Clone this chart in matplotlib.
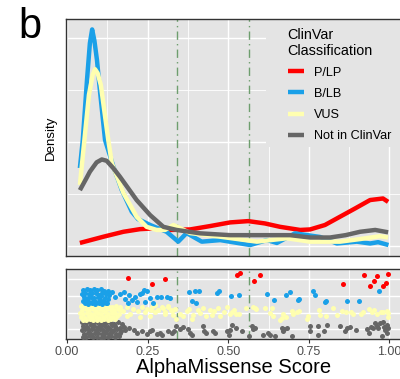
import matplotlib
matplotlib.use("Agg")
import matplotlib.pyplot as plt
import numpy as np
from matplotlib.patches import Rectangle

plt.rcParams["font.family"] = ["Liberation Sans", "DejaVu Sans"]

# ---------------------------------------------------------------------------
# Data
# ---------------------------------------------------------------------------

CLASSES = ["P/LP", "B/LB", "VUS", "Not in ClinVar"]
COLORS = {"P/LP": "#FF0000", "B/LB": "#1AA0E8", "VUS": "#FFFFB0",
          "Not in ClinVar": "#666666"}
THRESHOLDS = [0.34, 0.564]

# density curves (score, density)
PLP_X = [0.040, 0.113, 0.175, 0.226, 0.268, 0.320, 0.382, 0.444, 0.506, 0.562,
         0.614, 0.661, 0.723, 0.754, 0.800, 0.847, 0.894, 0.940, 0.980, 0.996]
PLP_Y = [0.12, 0.36, 0.55, 0.65, 0.68, 0.62, 0.64, 0.77, 0.91, 0.96,
         0.87, 0.74, 0.62, 0.64, 0.81, 1.13, 1.45, 1.77, 1.83, 1.70]

BLB_X = [0.040, 0.049, 0.062, 0.071, 0.078, 0.085, 0.093, 0.102, 0.118, 0.144,
         0.170, 0.201, 0.220, 0.258, 0.309, 0.345, 0.371, 0.418, 0.475, 0.568,
         0.620, 0.651, 0.707, 0.785, 0.837, 0.899, 0.940, 0.965, 0.997]
BLB_Y = [3.00, 4.08, 6.38, 7.80, 8.33, 7.90, 7.15, 6.00, 4.08, 3.05,
         2.15, 1.32, 1.04, 0.81, 0.55, 0.17, 0.50, 0.17, 0.23, 0.04,
         0.23, 0.12, 0.49, 0.35, 0.10, 0.17, 0.10, 0.15, 0.04]

VUS_X = [0.040, 0.054, 0.068, 0.080, 0.087, 0.095, 0.105, 0.128, 0.139, 0.175,
         0.216, 0.247, 0.278, 0.304, 0.330, 0.351, 0.382, 0.475, 0.589, 0.682,
         0.754, 0.847, 0.909, 0.971, 0.996]
VUS_Y = [2.35, 4.08, 5.81, 6.60, 6.80, 6.65, 6.19, 4.08, 3.19, 2.04,
         1.13, 0.74, 0.62, 0.62, 0.81, 0.69, 0.50, 0.36, 0.17, 0.30,
         0.17, 0.17, 0.27, 0.38, 0.33]

NIC_X = [0.040, 0.059, 0.071, 0.082, 0.092, 0.108, 0.123, 0.144, 0.164, 0.216,
         0.258, 0.299, 0.340, 0.413, 0.506, 0.599, 0.692, 0.754, 0.816, 0.864,
         0.909, 0.956, 0.996]
NIC_Y = [2.15, 2.58, 2.86, 3.05, 3.22, 3.33, 3.28, 2.99, 2.67, 1.77,
         1.19, 0.74, 0.62, 0.49, 0.42, 0.42, 0.42, 0.33, 0.33, 0.42,
         0.55, 0.62, 0.53]

# jittered strip points (score, offset from row centre)
PLP_PTS_X = [0.188, 0.263, 0.303, 0.527, 0.537, 0.580, 0.599, 0.857, 0.921,
             0.940, 0.953, 0.963, 0.980, 0.989, 0.995]
PLP_PTS_OFF = [0.10, -0.26, 0.02, 0.26, 0.40, -0.10, 0.28, -0.26, 0.28,
               -0.38, -0.10, 0.20, -0.38, -0.24, 0.34]

BLB_PTS_X = [0.050, 0.061, 0.072, 0.083, 0.093, 0.104, 0.116, 0.127,
             0.047, 0.057, 0.068, 0.078, 0.089, 0.099, 0.109, 0.121, 0.131,
             0.052, 0.064, 0.074, 0.085, 0.096, 0.106, 0.118, 0.128,
             0.049, 0.059, 0.069, 0.080, 0.091, 0.101, 0.112, 0.124,
             0.055, 0.066, 0.077, 0.087, 0.098, 0.110, 0.122,
             0.140, 0.150, 0.165, 0.176, 0.181, 0.191, 0.202, 0.212, 0.227,
             0.238, 0.243, 0.258, 0.190, 0.216, 0.232, 0.247, 0.268, 0.278,
             0.292, 0.309, 0.320, 0.379, 0.397, 0.410, 0.387, 0.400, 0.466,
             0.472, 0.509, 0.533, 0.620, 0.643, 0.679, 0.692, 0.716, 0.720,
             0.764, 0.769, 0.800, 0.803, 0.868, 0.906, 0.967]
BLB_PTS_OFF = [0.38, 0.43, 0.35, 0.41, 0.37, 0.44, 0.33, 0.30,
               0.14, 0.19, 0.11, 0.21, 0.16, 0.09, 0.20, 0.13, 0.05,
               -0.06, -0.11, -0.03, -0.13, -0.07, -0.01, -0.09, -0.17,
               -0.29, -0.25, -0.34, -0.27, -0.36, -0.26, -0.31, -0.39,
               -0.44, -0.46, -0.41, -0.47, -0.43, -0.45, -0.40,
               0.25, -0.05, 0.15, 0.25, -0.15, 0.05, -0.25, -0.05, 0.15,
               0.35, -0.35, -0.11, -0.43, -0.37, 0.19, 0.29, -0.43, -0.07,
               -0.03, -0.07, -0.11, 0.27, 0.33, 0.29, -0.31, -0.43, 0.21,
               0.33, -0.01, 0.09, 0.13, -0.23, 0.05, 0.23, -0.21, -0.17,
               0.29, 0.05, -0.37, -0.27, -0.31, -0.31, 0.29]

VUS_PTS_X = [0.042, 0.053, 0.064, 0.075, 0.086, 0.097, 0.108, 0.119, 0.130, 0.141, 0.152, 0.163,
             0.047, 0.058, 0.069, 0.080, 0.091, 0.102, 0.113, 0.124, 0.135, 0.146, 0.157, 0.168,
             0.040, 0.051, 0.062, 0.073, 0.084, 0.095, 0.106, 0.117, 0.128, 0.139, 0.150, 0.161,
             0.045, 0.056, 0.067, 0.078, 0.089, 0.100, 0.111, 0.122, 0.133, 0.144, 0.155,
             0.049, 0.060, 0.071, 0.082, 0.093, 0.104, 0.115, 0.126, 0.137, 0.148,
             0.175, 0.185, 0.195, 0.206, 0.221, 0.232, 0.242, 0.249, 0.263, 0.273,
             0.283, 0.294, 0.304, 0.314, 0.325, 0.335, 0.185, 0.226, 0.258,
             0.261, 0.273, 0.283, 0.297, 0.304, 0.314, 0.322, 0.328, 0.335, 0.338,
             0.351, 0.361, 0.371, 0.379, 0.387, 0.392, 0.406, 0.413, 0.423, 0.431,
             0.442, 0.449, 0.457, 0.468, 0.475, 0.487, 0.496, 0.506,
             0.511, 0.518, 0.524, 0.535, 0.555, 0.578, 0.583, 0.586, 0.614, 0.630,
             0.635, 0.638, 0.661, 0.666, 0.671, 0.679, 0.697, 0.702, 0.713, 0.721,
             0.746, 0.744, 0.783, 0.785, 0.804, 0.826, 0.837, 0.852, 0.866, 0.880,
             0.888, 0.911, 0.919, 0.938, 0.945, 0.953, 0.961, 0.973, 0.981, 0.992,
             0.995, 0.997]
VUS_PTS_OFF = [0.41, 0.36, 0.44, 0.38, 0.42, 0.35, 0.40, 0.43, 0.37, 0.34, 0.39, 0.32,
               0.18, 0.22, 0.15, 0.20, 0.13, 0.24, 0.17, 0.21, 0.14, 0.19, 0.23, 0.16,
               -0.03, -0.07, 0.01, -0.05, -0.09, -0.02, -0.06, 0.02, -0.08, -0.04, -0.01, -0.10,
               -0.24, -0.29, -0.21, -0.27, -0.23, -0.30, -0.25, -0.22, -0.28, -0.26, -0.20,
               -0.42, -0.45, -0.39, -0.44, -0.41, -0.46, -0.40, -0.43, -0.38, -0.36,
               0.13, 0.33, -0.07, 0.23, 0.13, 0.33, 0.03, 0.23, 0.33, 0.03,
               0.17, 0.33, -0.07, 0.37, 0.13, 0.23, -0.17, -0.23, -0.17,
               0.15, 0.45, 0.15, 0.29, 0.05, 0.41, 0.15, -0.15, 0.25, -0.35,
               -0.05, -0.21, 0.09, 0.25, -0.35, -0.15, 0.15, -0.01, 0.29, -0.21,
               0.19, -0.15, 0.09, 0.29, -0.21, 0.05, 0.35, -0.05,
               0.03, 0.17, -0.07, -0.07, 0.29, 0.33, 0.27, 0.23, 0.27, -0.01,
               0.29, -0.17, -0.43, -0.31, -0.07, -0.27, 0.13, -0.07, 0.03, 0.13,
               -0.17, -0.37, 0.17, -0.11, -0.17, 0.27, -0.13, 0.09, 0.07, 0.07,
               -0.07, -0.07, 0.03, 0.23, 0.03, 0.17, -0.07, 0.07, 0.03, 0.13,
               -0.01, -0.23]

NIC_PTS_X = [0.048, 0.059, 0.070, 0.081, 0.092, 0.103, 0.114, 0.125, 0.136, 0.147, 0.158, 0.170,
             0.051, 0.062, 0.073, 0.084, 0.095, 0.106, 0.117, 0.128, 0.139, 0.150, 0.163, 0.176,
             0.047, 0.057, 0.068, 0.079, 0.090, 0.101, 0.112, 0.123, 0.134, 0.145, 0.156, 0.168, 0.181,
             0.053, 0.064, 0.075, 0.086, 0.097, 0.108, 0.119, 0.130, 0.141, 0.152, 0.165,
             0.049, 0.060, 0.071, 0.082, 0.093, 0.104, 0.115, 0.126, 0.137, 0.149, 0.160,
             0.191, 0.207, 0.217, 0.233, 0.248, 0.258,
             0.263, 0.278, 0.289, 0.294, 0.314, 0.325, 0.332, 0.338, 0.351, 0.359,
             0.376, 0.382, 0.387, 0.423, 0.426, 0.431, 0.454, 0.459, 0.496, 0.501, 0.506,
             0.511, 0.524, 0.542, 0.563, 0.573, 0.578, 0.583, 0.609, 0.624, 0.630,
             0.645, 0.666, 0.669, 0.673, 0.682, 0.697, 0.754, 0.754, 0.780, 0.780,
             0.797, 0.806, 0.847, 0.862, 0.870, 0.878, 0.897, 0.930, 0.938, 0.942,
             0.950, 0.956, 0.961, 0.966, 0.971, 0.976, 0.981, 0.984, 0.987, 0.992,
             0.994, 0.996]
NIC_PTS_OFF = [0.44, 0.40, 0.46, 0.38, 0.43, 0.41, 0.36, 0.45, 0.39, 0.33, 0.42, 0.30,
               0.21, 0.17, 0.24, 0.19, 0.15, 0.22, 0.18, 0.13, 0.25, 0.20, 0.10, 0.16,
               -0.02, 0.03, -0.05, 0.01, -0.04, 0.04, -0.01, -0.06, 0.02, -0.03, 0.05, -0.08, -0.02,
               -0.25, -0.21, -0.28, -0.23, -0.19, -0.27, -0.22, -0.26, -0.18, -0.30, -0.24,
               -0.45, -0.48, -0.42, -0.47, -0.44, -0.49, -0.43, -0.46, -0.41, -0.47, -0.40,
               0.09, -0.01, -0.21, -0.11, -0.27, -0.07,
               -0.01, -0.27, -0.21, -0.31, -0.11, -0.21, -0.11, 0.19, 0.03, 0.13,
               0.03, -0.21, -0.31, 0.19, -0.11, -0.21, -0.07, -0.21, -0.11, -0.31, -0.01,
               0.27, 0.11, -0.09, -0.39, 0.21, 0.03, 0.07, -0.33, -0.23, -0.33,
               -0.39, 0.11, -0.09, 0.01, 0.07, -0.39, 0.21, -0.07, 0.21, -0.33,
               -0.09, 0.27, 0.21, -0.09, 0.07, 0.17, -0.03, 0.01, -0.23, 0.17,
               0.07, 0.41, 0.21, 0.07, 0.37, -0.39, 0.47, 0.17, -0.03, 0.27,
               -0.23, 0.07]

X_TICKS = [0.0, 0.25, 0.5, 0.75, 1.0]
X_TICK_LABELS = ["0.00", "0.25", "0.50", "0.75", "1.00"]

# ---------------------------------------------------------------------------
# Figure
# ---------------------------------------------------------------------------

PANEL = "#E4E4E4"
GUIDE = "#6E9E6E"
W, H = 400, 379

fig = plt.figure(figsize=(W / 100, H / 100), dpi=100)
ax1 = fig.add_axes([65.7 / W, 1 - 255.7 / H, 335 / W, 236.4 / H])
ax2 = fig.add_axes([65.7 / W, 1 - 339.3 / H, 335 / W, 70 / H])

XLIM = (-0.004, 1.035)

for ax in (ax1, ax2):
    ax.set_facecolor(PANEL)
    ax.set_xlim(*XLIM)
    ax.set_axisbelow(True)
    ax.set_xticks(X_TICKS)
    ax.set_xticks([0.125, 0.375, 0.625, 0.875], minor=True)
    ax.grid(which="major", color="white", linewidth=1.0)
    ax.grid(which="minor", color="white", linewidth=0.6)
    for sp in ax.spines.values():
        sp.set_color("#333333")
        sp.set_linewidth(1.0)
    for t in THRESHOLDS:
        ax.axvline(t, color=GUIDE, linewidth=1.0, linestyle=(0, (6, 3, 1, 3)),
                   zorder=1.5)

# top: densities
ax1.set_ylim(-0.37, 8.72)
ax1.set_yticks([0, 4, 8])
ax1.set_yticks([2, 6], minor=True)
ax1.tick_params(which="both", length=0, labelbottom=False, labelleft=False)
ax1.set_ylabel("Density", fontsize=9.5, labelpad=6)

# box hiding gridlines under the legend
ax1.add_patch(Rectangle((0.598, 0.46), 0.41, 0.535, transform=ax1.transAxes,
                        facecolor=PANEL, edgecolor="none", zorder=1))

curves = [(PLP_X, PLP_Y), (BLB_X, BLB_Y), (VUS_X, VUS_Y), (NIC_X, NIC_Y)]
for name, (xs, ys) in zip(CLASSES, curves):
    ax1.plot(xs, ys, color=COLORS[name], linewidth=3.2, label=name,
             solid_capstyle="butt", solid_joinstyle="round", zorder=3)

leg = ax1.legend(title="ClinVar\nClassification", loc="upper left",
                 bbox_to_anchor=(0.638, 1.0), frameon=False, fontsize=9.1,
                 title_fontsize=10.4, alignment="left", handlelength=1.3,
                 handletextpad=0.8, labelspacing=0.72, borderpad=0.15)

# bottom: jittered strip
ax2.set_ylim(0.41, 4.6)
ax2.set_yticks([1, 2, 3, 4])
ax2.tick_params(axis="y", length=0, labelleft=False)
ax2.tick_params(axis="x", which="major", length=3, color="#333333",
                labelcolor="#4D4D4D", labelsize=9, pad=1.5)
ax2.tick_params(axis="x", which="minor", length=0)
ax2.set_xticklabels(X_TICK_LABELS)
ax2.set_xlabel("AlphaMissense Score", fontsize=14.5, labelpad=0)

rows = {"Not in ClinVar": (1, NIC_PTS_X, NIC_PTS_OFF),
        "VUS": (2, VUS_PTS_X, VUS_PTS_OFF),
        "B/LB": (3, BLB_PTS_X, BLB_PTS_OFF),
        "P/LP": (4, PLP_PTS_X, PLP_PTS_OFF)}
for name, (row, xs, offs) in rows.items():
    ys = row + np.asarray(offs)
    ax2.scatter(xs, ys, s=13, color=COLORS[name], linewidths=0, zorder=3)

fig.text(18 / W, 1 - 38 / H, "b", fontsize=30, va="baseline", ha="left")

fig.savefig("out.png", dpi=100)
